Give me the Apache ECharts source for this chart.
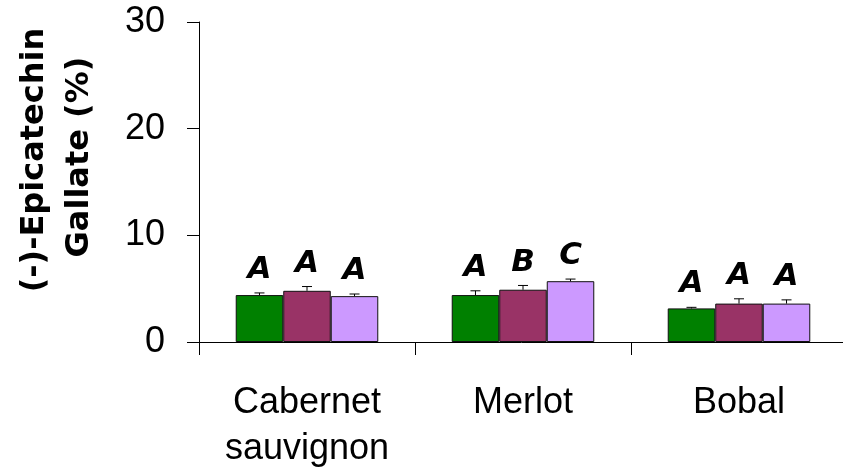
<!DOCTYPE html>
<html>
<head>
<meta charset="utf-8">
<script src="https://cdn.jsdelivr.net/npm/echarts@6/dist/echarts.min.js"></script>
<style>
  html, body { margin: 0; padding: 0; background: #fff; }
  #chart { width: 843px; height: 468px; }
</style>
</head>
<body>
<div id="chart"></div>
<script>
  // categories and values
  var categories = ['Cabernet\nsauvignon', 'Merlot', 'Bobal'];
  var valuesGreen = [4.4, 4.4, 3.15];
  var valuesPlum = [4.8, 4.9, 3.6];
  var valuesLilac = [4.3, 5.7, 3.6];
  var errGreen = [0.2, 0.4, 0.1];
  var errPlum = [0.4, 0.4, 0.45];
  var errLilac = [0.2, 0.2, 0.35];
  var lettersGreen = ['A', 'A', 'A'];
  var lettersPlum = ['A', 'B', 'A'];
  var lettersLilac = ['A', 'C', 'A'];
  var yMin = 0, yMax = 30, yStep = 10;

  var colors = ['#008000', '#993366', '#CC99FF'];
  var gapPct = 34;

  function barSeries(vals, color) {
      return {
          type: 'bar',
          data: vals,
          barGap: 0,
          barCategoryGap: gapPct + '%',
          itemStyle: { color: color, borderColor: '#111', borderWidth: 1 },
          z: 2
      };
  }

  // error bar + letter above it, slot = -1, 0, 1 inside the group
  function errSeries(vals, errs, letters, slot) {
      return {
          type: 'custom',
          z: 3,
          data: vals.map(function (v, i) { return [i, v, errs[i]]; }),
          renderItem: function (params, api) {
              var i = params.dataIndex;
              var v = api.value(1), e = api.value(2);
              var band = api.size([1, 0])[0];
              var barW = band * (1 - gapPct / 100) / 3;
              var top = api.coord([i, v + e]);
              var base = api.coord([i, v]);
              var x = top[0] + slot * barW;
              var ls = { stroke: '#000', lineWidth: 1 };
              return {
                  type: 'group',
                  children: [
                      { type: 'line', shape: { x1: x, y1: base[1], x2: x, y2: top[1] }, style: ls },
                      { type: 'line', shape: { x1: x - 5, y1: top[1], x2: x + 5, y2: top[1] }, style: ls },
                      {
                          type: 'text',
                          style: {
                              text: letters[i], x: x, y: top[1] - 23,
                              align: 'center', verticalAlign: 'middle',
                              font: 'italic bold 31px "Comic Sans MS", "DejaVu Sans"', fill: '#000'
                          }
                      }
                  ]
              };
          }
      };
  }

  var chart = echarts.init(document.getElementById('chart'));
  chart.setOption({
      animation: false,
      backgroundColor: '#fff',
      grid: { left: 199, top: 22, width: 648, bottom: 126, containLabel: false, outerBoundsMode: 'none' },
      xAxis: {
          type: 'category',
          data: categories,
          axisLine: { lineStyle: { color: '#000', width: 1 } },
          axisTick: { show: true, length: 13, lineStyle: { color: '#000' } },
          axisLabel: {
              color: '#000', fontFamily: 'Liberation Sans, Arial', fontSize: 36,
              lineHeight: 46, margin: 38, interval: 0
          }
      },
      yAxis: {
          type: 'value',
          min: yMin, max: yMax, interval: yStep,
          splitLine: { show: false },
          axisLine: { show: true, lineStyle: { color: '#000', width: 1 } },
          axisTick: { show: true, length: 12, lineStyle: { color: '#000' } },
          axisLabel: { color: '#000', fontFamily: 'Liberation Sans, Arial', fontSize: 36, margin: 34 }
      },
      graphic: [
          {
              type: 'text', x: 35, y: 160, rotation: Math.PI / 2,
              style: {
                  text: '(-)-Epicatechin', align: 'center', verticalAlign: 'middle',
                  font: 'bold 32px "Comic Sans MS", "DejaVu Sans"', fill: '#000'
              }
          },
          {
              type: 'text', x: 80, y: 157, rotation: Math.PI / 2,
              style: {
                  text: 'Gallate (%)', align: 'center', verticalAlign: 'middle',
                  font: 'bold 32px "Comic Sans MS", "DejaVu Sans"', fill: '#000'
              }
          }
      ],
      series: [
          barSeries(valuesGreen, colors[0]),
          barSeries(valuesPlum, colors[1]),
          barSeries(valuesLilac, colors[2]),
          errSeries(valuesGreen, errGreen, lettersGreen, -1),
          errSeries(valuesPlum, errPlum, lettersPlum, 0),
          errSeries(valuesLilac, errLilac, lettersLilac, 1)
      ]
  });
</script>
</body>
</html>
